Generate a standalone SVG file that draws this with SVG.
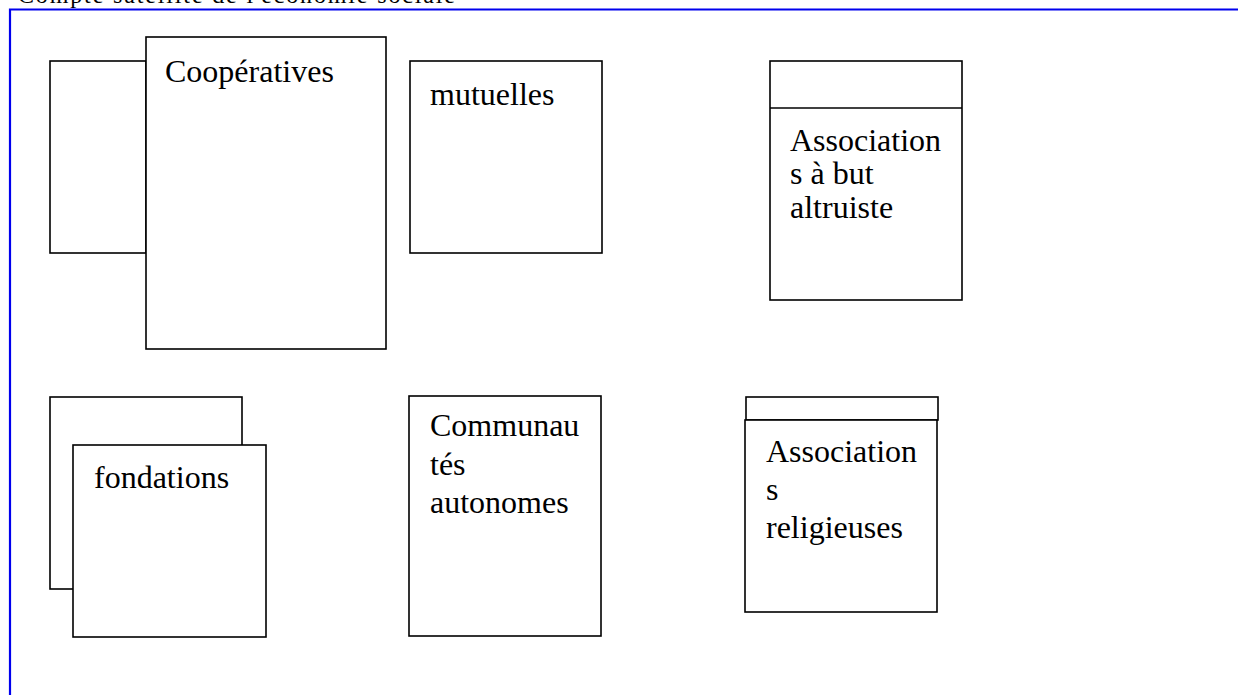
<svg xmlns="http://www.w3.org/2000/svg" width="1238" height="695" viewBox="0 0 1238 695">
<style>
.b{fill:#fff;stroke:#000;stroke-width:1.6}
text{font-family:"Liberation Serif","Times New Roman",serif;fill:#000}
.t{font-size:32px}
.frame{fill:none;stroke:#0000ee;stroke-width:2.2}
</style>
<rect width="1238" height="695" fill="#fff"/>
<text x="18" y="2.5" font-size="24" textLength="437">Compte satellite de l'économie sociale</text>
<path class="frame" d="M10 695 V9.5 H1238"/>
<g id="cooperatives">
<rect class="b" x="50" y="61" width="96" height="192"/>
<rect class="b" x="146" y="37" width="240" height="312"/>
<text class="t" x="165" y="82">Coopératives</text>
</g>
<g id="mutuelles">
<rect class="b" x="410" y="61" width="192" height="192"/>
<text class="t" x="430" y="105">mutuelles</text>
</g>
<g id="associations-altruiste">
<rect class="b" x="770" y="61" width="192" height="239"/>
<line class="b" x1="770" y1="108" x2="962" y2="108"/>
<text class="t"><tspan x="790" y="151">Association</tspan><tspan x="790" y="184">s à but</tspan><tspan x="790" y="218">altruiste</tspan></text>
</g>
<g id="fondations">
<rect class="b" x="50" y="397" width="192" height="192"/>
<rect class="b" x="73" y="445" width="193" height="192"/>
<text class="t" x="94" y="488">fondations</text>
</g>
<g id="communautes">
<rect class="b" x="409" y="396" width="192" height="240"/>
<text class="t"><tspan x="430" y="436">Communau</tspan><tspan x="430" y="475">tés</tspan><tspan x="430" y="513">autonomes</tspan></text>
</g>
<g id="associations-religieuses">
<rect class="b" x="746" y="397" width="192" height="23"/>
<rect class="b" x="745" y="420" width="192" height="192"/>
<text class="t"><tspan x="766" y="462">Association</tspan><tspan x="766" y="500">s</tspan><tspan x="766" y="538">religieuses</tspan></text>
</g>
<g id="connectors"/>
</svg>
